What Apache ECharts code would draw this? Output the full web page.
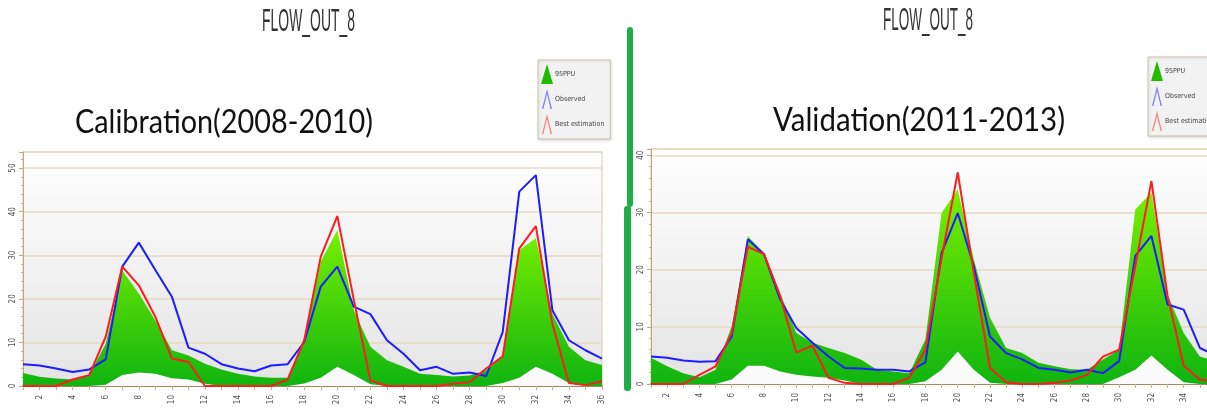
<!DOCTYPE html>
<html>
<head>
<meta charset="utf-8">
<title>FLOW_OUT_8</title>
<script src="https://cdn.jsdelivr.net/npm/echarts@6/dist/echarts.min.js"></script>
<style>
  html, body { margin: 0; padding: 0; background: #fff; overflow: hidden; }
  #chart { width: 1222px; height: 414px; }
</style>
</head>
<body>
<div id="chart"></div>
<script>
// months 1..36
var months = ['1','2','3','4','5','6','7','8','9','10','11','12','13','14','15','16','17','18',
              '19','20','21','22','23','24','25','26','27','28','29','30','31','32','33','34','35','36'];

// calibration 2008-2010
var calUpper = [3.0,2.1,1.7,1.5,2.5,9.7,26.5,21.2,15.1,8.2,7.0,5.1,3.8,2.8,2.2,1.9,1.9,10.5,
                28.5,35.8,17.4,9.0,5.9,4.4,2.8,2.5,2.2,2.4,3.6,6.7,31.2,33.9,16.6,9.0,5.9,4.8];
var calLower = [0,0,0,0,0,0.3,2.5,3.1,2.8,1.8,1.5,0.5,0,0,0,0,0,0.6,
                1.9,4.4,2.5,0.4,0,0,0,0,0,0,0,0.7,1.9,4.4,2.8,0.7,0,0];
var calObs   = [5.0,4.7,4.0,3.2,3.8,6.1,27.4,32.9,26.6,20.5,8.8,7.4,5.0,4.0,3.4,4.7,5.0,10.1,
                22.8,27.4,18.2,16.5,10.5,7.4,3.6,4.4,2.8,3.1,2.3,12.4,44.6,48.4,17.4,10.5,8.2,6.3];
var calBest  = [0,0,0,1.5,2.5,11.3,27.4,23.1,15.9,6.3,5.5,0,0,0,0,0,1.5,10.5,
                29.7,39.0,19.7,1.3,0,0,0,0,0.5,0.9,4.0,6.8,31.6,36.7,14.3,0.7,0.2,1.1];

// validation 2011-2013
var valUpper = [4.6,3.1,1.9,1.2,2.5,10.1,25.9,22.9,15.9,8.9,7.2,6.3,5.4,4.3,2.5,2.2,1.9,7.8,
                29.9,34.0,21.8,11.6,6.3,5.4,3.7,3.1,2.6,2.5,4.3,6.0,30.5,33.5,15.6,8.9,4.8,4.0];
var valLower = [0,0,0,0,0,0.8,3.2,3.2,2.2,1.6,1.3,1.1,0.6,0,0,0,0,0.5,
                2.5,5.7,2.5,0.2,0,0,0,0,0,0,0,1.2,2.5,5.0,2.5,0.3,0,0];
var valObs   = [4.8,4.6,4.1,3.9,4.0,8.3,25.3,22.7,14.8,9.8,7.2,4.8,2.8,2.7,2.5,2.5,2.2,3.8,
                22.9,29.9,20.6,8.3,5.4,4.3,2.8,2.5,2.0,2.5,1.9,4.0,22.4,25.9,13.9,13.0,6.3,5.0];
var valBest  = [0,0,0,1.6,3.1,8.9,24.0,22.7,15.4,5.5,6.7,1.1,0.2,0,0,0,1.1,6.0,
                22.0,37.0,19.4,2.8,0.3,0,0,0.2,0.6,1.6,4.8,6.0,20.6,35.5,15.4,3.2,0.8,0.5];

var myChart = echarts.init(document.getElementById('chart'));

// width scale so the texts fill the same room as in the picture
var cv = document.createElement('canvas').getContext('2d');
function fitX(text, font, w) {
    cv.font = font;
    return w / cv.measureText(text).width;
}

var smallFont = '"DejaVu Sans Condensed", "Liberation Sans", sans-serif';
var tan = '#d8c8a8';
var bandColor = new echarts.graphic.LinearGradient(0, 0, 0, 1, [
    { offset: 0, color: '#78f000' },
    { offset: 1, color: '#10b410' }
]);
var plotBg = new echarts.graphic.LinearGradient(0, 0, 0, 1, [
    { offset: 0, color: '#ffffff' },
    { offset: 1, color: '#e4e4e4' }
]);

function xAx(idx) {
    return {
        gridIndex: idx, type: 'category', data: months, boundaryGap: false,
        axisLine: { lineStyle: { color: '#a8845a', width: 2 } },
        axisTick: { interval: 0, length: 4, lineStyle: { color: '#c8b48c' } },
        axisLabel: {
            interval: function (i) { return i % 2 === 1; },
            rotate: 90, fontSize: 8, color: '#555', margin: 9,
            fontFamily: smallFont
        },
        splitLine: { show: false }
    };
}
function yAx(idx, max) {
    return {
        gridIndex: idx, type: 'value', min: 0, max: max, interval: 10,
        axisLine: { show: true, lineStyle: { color: '#c0a880' } },
        axisTick: { show: true, length: 4, lineStyle: { color: '#c0a880' } },
        minorTick: { show: true, splitNumber: 5, length: 2, lineStyle: { color: '#c8b898' } },
        splitLine: { lineStyle: { color: '#e6d9c0', width: 1.5 } },
        axisLabel: {
            rotate: 90, fontSize: 8, color: '#555', margin: 6,
            fontFamily: smallFont,
            formatter: function (v) { return v % 10 === 0 ? v : ''; }
        }
    };
}
function panel(idx, upper, lower, obs, best) {
    return [
        { name: '95PPU', type: 'line', xAxisIndex: idx, yAxisIndex: idx, data: upper,
          symbol: 'none', lineStyle: { width: 0 }, itemStyle: { color: '#33cc00' },
          areaStyle: { color: bandColor, opacity: 1 } },
        { name: 'lower', type: 'line', xAxisIndex: idx, yAxisIndex: idx, data: lower,
          symbol: 'none', lineStyle: { width: 0 }, silent: true,
          areaStyle: { color: '#fbfbfb', opacity: 1 } },
        { name: 'Observed', type: 'line', xAxisIndex: idx, yAxisIndex: idx, data: obs,
          symbol: 'none', lineStyle: { color: '#1c1cff', width: 2 }, itemStyle: { color: '#1c1cff' } },
        { name: 'Best estimation', type: 'line', xAxisIndex: idx, yAxisIndex: idx, data: best,
          symbol: 'none', lineStyle: { color: '#ff1c1c', width: 2 }, itemStyle: { color: '#ff1c1c' } }
    ];
}
function legendAt(left, top) {
    return {
        orient: 'vertical', left: left, top: top, padding: [4, 6, 5, 3],
        itemWidth: 12, itemHeight: 20, itemGap: 5,
        backgroundColor: '#f2f2f2', borderColor: '#cfc4ac', borderWidth: 1,
        shadowColor: 'rgba(0,0,0,0.15)', shadowBlur: 3, shadowOffsetX: 1, shadowOffsetY: 1,
        textStyle: { fontSize: 7, color: '#444', fontFamily: smallFont, padding: [0, 0, 0, -3] },
        selectedMode: false,
        data: [
            { name: '95PPU', icon: 'triangle', itemStyle: { color: '#22bb00' } },
            { name: 'Observed', icon: 'path://M0,20 L5,0 L10,20 L8.6,20 L5,5 L1.4,20 Z', itemStyle: { color: '#7f7fff' } },
            { name: 'Best estimation', icon: 'path://M0,20 L5,0 L10,20 L8.6,20 L5,5 L1.4,20 Z', itemStyle: { color: '#ff8080' } }
        ]
    };
}

var fTitle = '32px "Liberation Sans"';
var fBig = '33px Lato';

var option = {
    animation: false,
    backgroundColor: '#ffffff',
    grid: [
        { left: 23, top: 152, width: 579, height: 234, show: true,
          backgroundColor: plotBg, borderColor: tan, borderWidth: 1 },
        { left: 651, top: 149, width: 565, height: 235, show: true,
          backgroundColor: plotBg, borderColor: tan, borderWidth: 1 }
    ],
    xAxis: [xAx(0), xAx(1)],
    yAxis: [yAx(0, 53.7), yAx(1, 41.1)],
    legend: [legendAt(538, 60), legendAt(1148, 57)],
    series: panel(0, calUpper, calLower, calObs, calBest)
        .concat(panel(1, valUpper, valLower, valObs, valBest)),
    graphic: [
        { type: 'text', x: 262, y: 22, scaleX: fitX('FLOW_OUT_8', fTitle, 93),
          style: { text: 'FLOW_OUT_8', font: fTitle, fill: '#333', verticalAlign: 'middle' } },
        { type: 'text', x: 883, y: 21, scaleX: fitX('FLOW_OUT_8', fTitle, 90),
          style: { text: 'FLOW_OUT_8', font: fTitle, fill: '#333', verticalAlign: 'middle' } },
        { type: 'text', x: 75, y: 122, scaleX: fitX('Calibration(2008-2010)', fBig, 298),
          style: { text: 'Calibration(2008-2010)', font: fBig, fill: '#111', verticalAlign: 'middle' } },
        { type: 'text', x: 773, y: 120, scaleX: fitX('Validation(2011-2013)', fBig, 292),
          style: { text: 'Validation(2011-2013)', font: fBig, fill: '#111', verticalAlign: 'middle' } },
        // green divider
        { type: 'rect', shape: { x: 627, y: 27, width: 6, height: 180, r: 3 }, style: { fill: '#1fae4a' } },
        { type: 'rect', shape: { x: 624, y: 206, width: 7, height: 185, r: 3 }, style: { fill: '#1fae4a' } }
    ]
};

myChart.setOption(option);
</script>
</body>
</html>
